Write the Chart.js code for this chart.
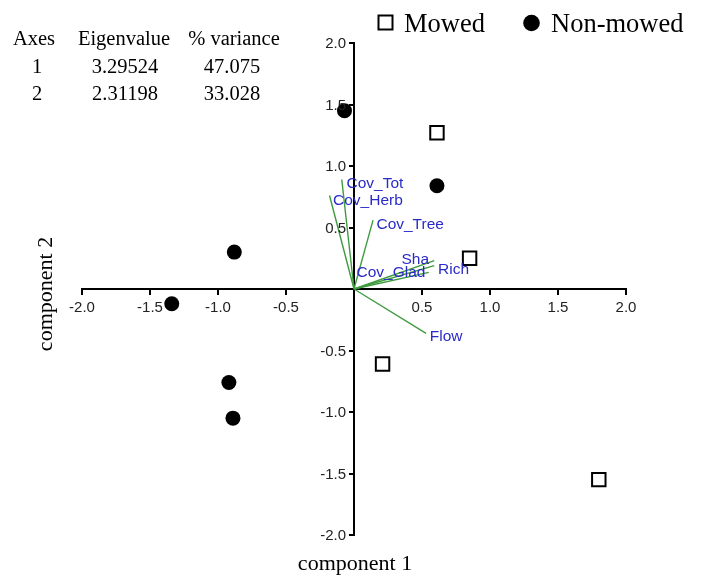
<!DOCTYPE html>
<html><head><meta charset="utf-8">
<script src="https://cdn.jsdelivr.net/npm/chart.js@4.4.1/dist/chart.umd.min.js"></script>
<style>html,body{margin:0;padding:0;background:#fff;} #wrap{width:702px;height:581px;position:relative;}</style>
</head><body><div id="wrap"><canvas id="c" width="702" height="581"></canvas></div>
<script>
// ---- data ----
const mowedX = [0.61, 0.85, 0.21, 1.80];
const mowedY = [1.27, 0.25, -0.61, -1.55];
const nonMowedX = [-0.07, 0.61, -0.88, -1.34, -0.92, -0.89];
const nonMowedY = [1.45, 0.84, 0.30, -0.12, -0.76, -1.05];
const vecNames = ['Cov_Tot', 'Cov_Herb', 'Cov_Tree', 'Sha', 'Rich', 'Cov_Glad', 'Flow'];
const vecX = [-0.09, -0.18, 0.14, 0.59, 0.59, 0.55, 0.53];
const vecY = [0.89, 0.76, 0.56, 0.23, 0.19, 0.135, -0.36];
const vecLabelX = [-0.055, -0.154, 0.165, 0.349, 0.618, 0.018, 0.557];
const vecLabelY = [0.854, 0.72, 0.523, 0.236, 0.157, 0.135, -0.39];
const tableHeader = ['Axes', 'Eigenvalue', '% variance'];
const axesIdx = ['1', '2'];
const eigenvalues = ['3.29524', '2.31198'];
const variances = ['47.075', '33.028'];
const seriesNames = ['Mowed', 'Non-mowed'];
const axisTitles = ['component 1', 'component 2'];

const GREEN = '#3f9b3f';
const BLUE = '#2a2ac8';
const SERIF = '"Liberation Serif", "Times New Roman", serif';
const SANS = '"Liberation Sans", Arial, sans-serif';

const toPts = (xs, ys) => xs.map((x, i) => ({x: x, y: ys[i]}));

const datasets = [
  {label: seriesNames[1], data: toPts(nonMowedX, nonMowedY), showLine: false,
   pointStyle: 'circle', pointRadius: 7.5, backgroundColor: '#000', borderColor: '#000', borderWidth: 0},
  {label: seriesNames[0], data: toPts(mowedX, mowedY), showLine: false,
   pointStyle: 'rect', pointRadius: 9.5, backgroundColor: '#fff', borderColor: '#000', borderWidth: 2}
];
vecNames.forEach((n, i) => {
  datasets.push({label: n, data: [{x: 0, y: 0}, {x: vecX[i], y: vecY[i]}], showLine: true,
    pointRadius: 0, borderColor: GREEN, borderWidth: 1.4, fill: false});
});

const tickLabel = v => (Math.abs(v) < 1e-9 ? '' : v.toFixed(1));

const extras = {
  id: 'extras',
  afterDatasetsDraw(chart) {
    const ctx = chart.ctx, xs = chart.scales.x, ys = chart.scales.y;
    ctx.save();
    // y-axis tick marks and labels, left of the centred axis
    const ax = xs.getPixelForValue(0);
    ctx.strokeStyle = '#000';
    ctx.lineWidth = 2;
    ctx.fillStyle = '#222';
    ctx.font = '15px ' + SANS;
    ctx.textAlign = 'right';
    ctx.textBaseline = 'middle';
    ys.ticks.forEach(t => {
      if (Math.abs(t.value) < 1e-9) return;
      const py = Math.round(ys.getPixelForValue(t.value));
      ctx.beginPath();
      ctx.moveTo(ax - 5, py);
      ctx.lineTo(ax, py);
      ctx.stroke();
      ctx.fillText(tickLabel(t.value), ax - 8, py + 1);
    });
    // vector labels
    ctx.font = '15.5px ' + SANS;
    ctx.fillStyle = BLUE;
    ctx.textAlign = 'left';
    ctx.textBaseline = 'middle';
    vecNames.forEach((n, i) => {
      ctx.fillText(n, xs.getPixelForValue(vecLabelX[i]), ys.getPixelForValue(vecLabelY[i]));
    });
    ctx.restore();
  },
  afterDraw(chart) {
    const ctx = chart.ctx;
    ctx.save();
    ctx.fillStyle = '#000';
    // table
    ctx.font = '20.5px ' + SERIF;
    ctx.textAlign = 'center';
    ctx.textBaseline = 'alphabetic';
    const cols = [34, 124, 234];
    tableHeader.forEach((t, i) => ctx.fillText(t, cols[i], 45));
    [73, 100].forEach((yb, r) => {
      ctx.fillText(axesIdx[r], 37, yb);
      ctx.fillText(eigenvalues[r], cols[1] + 1, yb);
      ctx.fillText(variances[r], cols[2] - 2, yb);
    });
    // legend
    ctx.lineWidth = 2;
    ctx.strokeStyle = '#000';
    ctx.fillStyle = '#fff';
    ctx.fillRect(378.5, 15.5, 14, 14);
    ctx.strokeRect(378.5, 15.5, 14, 14);
    ctx.fillStyle = '#000';
    ctx.beginPath();
    ctx.arc(531.5, 23, 8.3, 0, Math.PI * 2);
    ctx.fill();
    ctx.font = '26.5px ' + SERIF;
    ctx.textAlign = 'left';
    ctx.fillText(seriesNames[0], 404, 32);
    ctx.fillText(seriesNames[1], 551, 32);
    // axis titles
    ctx.font = '22px ' + SERIF;
    ctx.textAlign = 'center';
    ctx.fillText(axisTitles[0], 355, 570);
    ctx.translate(52, 294);
    ctx.rotate(-Math.PI / 2);
    ctx.fillText(axisTitles[1], 0, 0);
    ctx.restore();
  }
};

new Chart(document.getElementById('c'), {
  type: 'scatter',
  data: {datasets: datasets},
  plugins: [extras],
  options: {
    responsive: false,
    animation: false,
    devicePixelRatio: 1,
    layout: {padding: {left: 82, right: 76, top: 43, bottom: 46}},
    plugins: {legend: {display: false}, tooltip: {enabled: false}},
    scales: {
      x: {
        type: 'linear', min: -2, max: 2, position: {y: 0},
        ticks: {stepSize: 0.5, callback: tickLabel, color: '#222', font: {family: SANS, size: 15}, padding: 5, maxRotation: 0, autoSkip: false},
        grid: {display: true, drawOnChartArea: false, drawTicks: true, tickLength: 5, color: '#000', lineWidth: 2},
        border: {display: true, color: '#000', width: 2}
      },
      y: {
        type: 'linear', min: -2, max: 2, position: {x: 0},
        ticks: {stepSize: 0.5, display: false, autoSkip: false},
        grid: {display: false},
        border: {display: true, color: '#000', width: 2}
      }
    }
  }
});
</script></body></html>
